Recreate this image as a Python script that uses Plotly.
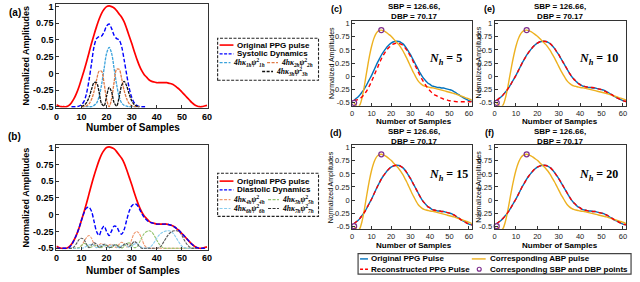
import plotly.graph_objects as go

W, H = 640, 282
SANS = "Liberation Sans, Arial, sans-serif"
SERIF = "Liberation Serif, DejaVu Serif, serif"

# ---------------- data: panels (a) and (b) ----------------
samples_ppg = list(range(0, 61))
ppg_original = [-0.47, -0.49, -0.50, -0.50, -0.50, -0.48, -0.44, -0.38, -0.30, -0.20,
                -0.08, 0.04, 0.17, 0.31, 0.45, 0.58, 0.70, 0.81, 0.90, 0.96,
                1.00, 1.01, 1.00, 0.98, 0.94, 0.89, 0.84, 0.77, 0.67, 0.56,
                0.45, 0.33, 0.22, 0.12, 0.04, -0.02, -0.06, -0.10, -0.12, -0.13,
                -0.14, -0.14, -0.14, -0.14, -0.14, -0.15, -0.16, -0.18, -0.21, -0.24,
                -0.28, -0.32, -0.36, -0.40, -0.44, -0.47, -0.49, -0.50, -0.50, -0.49, -0.48]

samples_sys = list(range(6, 37))
systolic = [-0.50, -0.50, -0.50, -0.49, -0.47, -0.42, -0.30, -0.10, 0.15, 0.40,
            0.52, 0.55, 0.56, 0.62, 0.71, 0.74, 0.67, 0.57, 0.52, 0.50,
            0.40, 0.20, -0.02, -0.22, -0.36, -0.44, -0.48, -0.50, -0.50, -0.50, -0.50]

samples_comp_a = list(range(10, 34))
comp_1h = [-0.50, -0.50, -0.50, -0.50, -0.50, -0.48, -0.445, -0.35, -0.17, 0.07,
           0.30, 0.39, 0.30, 0.07, -0.17, -0.35, -0.445, -0.48, -0.49, -0.50,
           -0.50, -0.50, -0.50, -0.50]
comp_2h = [-0.50, -0.497, -0.487, -0.458, -0.39, -0.27, -0.10, 0.03, 0.03, -0.15,
           -0.39, -0.50, -0.38, -0.13, 0.06, 0.06, -0.08, -0.26, -0.38, -0.455,
           -0.486, -0.497, -0.50, -0.50]
comp_3h = [-0.494, -0.479, -0.44, -0.36, -0.24, -0.14, -0.14, -0.28, -0.455, -0.487,
           -0.34, -0.21, -0.28, -0.44, -0.49, -0.355, -0.18, -0.12, -0.19, -0.31,
           -0.41, -0.467, -0.49, -0.497]

diastolic = [-0.50, -0.50, -0.50, -0.50, -0.50, -0.49, -0.45, -0.38, -0.30, -0.20,
             -0.08, 0.03, 0.10, 0.11, 0.05, -0.10, -0.25, -0.31, -0.22, -0.17,
             -0.25, -0.31, -0.24, -0.17, -0.18, -0.25, -0.29, -0.22, -0.08, 0.05,
             0.13, 0.16, 0.15, 0.09, 0.02, -0.04, -0.08, -0.11, -0.12, -0.13,
             -0.14, -0.14, -0.14, -0.14, -0.14, -0.15, -0.16, -0.18, -0.21, -0.24,
             -0.28, -0.32, -0.36, -0.40, -0.44, -0.47, -0.49, -0.50, -0.50, -0.50, -0.50]

samples_comp_b = list(range(5, 57))
comp_4h = [-0.50, -0.50, -0.50, -0.50, -0.49, -0.46, -0.40, -0.34, -0.31, -0.35,
           -0.44, -0.49, -0.45, -0.43, -0.46, -0.49, -0.45, -0.44, -0.47, -0.49,
           -0.44, -0.41, -0.43, -0.48, -0.47, -0.37, -0.28, -0.25, -0.28, -0.36,
           -0.45, -0.49, -0.50, -0.50, -0.50, -0.50, -0.50, -0.50, -0.50, -0.50,
           -0.50, -0.50, -0.50, -0.50, -0.50, -0.50, -0.50, -0.50, -0.50, -0.50,
           -0.50, -0.50]
comp_5h = [-0.50, -0.50, -0.50, -0.50, -0.49, -0.46, -0.43, -0.44, -0.49, -0.48,
           -0.46, -0.46, -0.49, -0.49, -0.46, -0.46, -0.49, -0.49, -0.46, -0.45,
           -0.47, -0.50, -0.47, -0.43, -0.42, -0.45, -0.49, -0.48, -0.42, -0.34,
           -0.28, -0.25, -0.24, -0.26, -0.31, -0.38, -0.44, -0.48, -0.50, -0.50,
           -0.50, -0.50, -0.50, -0.50, -0.50, -0.50, -0.50, -0.50, -0.50, -0.50,
           -0.50, -0.50]
comp_6h = [-0.50, -0.50, -0.50, -0.50, -0.50, -0.50, -0.49, -0.47, -0.45, -0.44,
           -0.46, -0.49, -0.47, -0.45, -0.46, -0.49, -0.48, -0.45, -0.45, -0.48,
           -0.49, -0.46, -0.44, -0.46, -0.49, -0.47, -0.44, -0.43, -0.46, -0.49,
           -0.50, -0.50, -0.49, -0.46, -0.41, -0.35, -0.30, -0.27, -0.25, -0.24,
           -0.24, -0.26, -0.30, -0.36, -0.42, -0.47, -0.49, -0.50, -0.50, -0.50,
           -0.50, -0.50]
comp_7h = [-0.50, -0.50, -0.48, -0.43, -0.37, -0.35, -0.37, -0.44, -0.49, -0.45,
           -0.42, -0.44, -0.49, -0.47, -0.44, -0.45, -0.49, -0.48, -0.45, -0.45,
           -0.49, -0.48, -0.44, -0.43, -0.47, -0.44, -0.40, -0.42, -0.47, -0.50,
           -0.50, -0.50, -0.50, -0.50, -0.50, -0.50, -0.49, -0.45, -0.39, -0.33,
           -0.28, -0.25, -0.24, -0.24, -0.26, -0.31, -0.38, -0.44, -0.48, -0.50,
           -0.50, -0.50]

# ---------------- data: panels (c)-(f) ----------------
samples_bp = list(range(1, 63))
ppg_pulse = [-0.45, -0.42, -0.39, -0.35, -0.30, -0.25, -0.19, -0.12, -0.05, 0.02,
             0.10, 0.18, 0.26, 0.33, 0.40, 0.46, 0.51, 0.56, 0.60, 0.63,
             0.65, 0.66, 0.665, 0.66, 0.645, 0.62, 0.58, 0.53, 0.47, 0.41,
             0.34, 0.27, 0.20, 0.13, 0.06, 0.00, -0.05, -0.09, -0.13, -0.15,
             -0.18, -0.19, -0.20, -0.21, -0.21, -0.22, -0.22, -0.23, -0.24, -0.25,
             -0.26, -0.28, -0.30, -0.33, -0.35, -0.38, -0.40, -0.42, -0.44, -0.46,
             -0.47, -0.48]
abp_pulse = [-0.50, -0.55, -0.58, -0.54, -0.42, -0.24, -0.02, 0.20, 0.40, 0.57,
             0.70, 0.79, 0.845, 0.87, 0.875, 0.865, 0.845, 0.82, 0.79, 0.76,
             0.72, 0.68, 0.64, 0.60, 0.55, 0.49, 0.42, 0.35, 0.27, 0.19,
             0.11, 0.04, -0.03, -0.09, -0.13, -0.16, -0.18, -0.19, -0.20, -0.21,
             -0.215, -0.22, -0.23, -0.24, -0.25, -0.26, -0.27, -0.28, -0.29, -0.30,
             -0.31, -0.32, -0.33, -0.345, -0.36, -0.37, -0.385, -0.40, -0.41, -0.425,
             -0.44, -0.46]
recon_nh5 = [-0.45, -0.45, -0.44, -0.42, -0.39, -0.35, -0.30, -0.24, -0.17, -0.09,
             -0.01, 0.08, 0.16, 0.25, 0.33, 0.40, 0.46, 0.51, 0.55, 0.58,
             0.61, 0.62, 0.63, 0.625, 0.61, 0.59, 0.55, 0.50, 0.44, 0.38,
             0.31, 0.23, 0.16, 0.08, 0.01, -0.06, -0.12, -0.18, -0.23, -0.27,
             -0.31, -0.34, -0.36, -0.38, -0.40, -0.41, -0.43, -0.44, -0.45, -0.46,
             -0.465, -0.47, -0.475, -0.48, -0.48, -0.48, -0.48, -0.48, -0.48, -0.48,
             -0.48, -0.48]
recon_nh10 = [-0.45, -0.42, -0.39, -0.35, -0.30, -0.25, -0.19, -0.12, -0.05, 0.02,
              0.10, 0.18, 0.26, 0.33, 0.40, 0.46, 0.51, 0.56, 0.60, 0.63,
              0.65, 0.66, 0.665, 0.66, 0.645, 0.62, 0.58, 0.53, 0.47, 0.41,
              0.34, 0.27, 0.20, 0.13, 0.06, 0.00, -0.05, -0.09, -0.13, -0.16,
              -0.18, -0.19, -0.20, -0.20, -0.21, -0.21, -0.22, -0.23, -0.24, -0.25,
              -0.27, -0.29, -0.31, -0.33, -0.35, -0.38, -0.40, -0.42, -0.44, -0.46,
              -0.47, -0.48]
recon_nh15 = list(ppg_pulse)
recon_nh20 = list(ppg_pulse)
bp_points_x = [15, 1]
bp_points_y = [0.875, -0.50]

y_ticks = [-0.5, -0.25, 0, 0.25, 0.5, 0.75, 1]
y_ticklabels = ["-0.5", "-0.25", "0", "0.25", "0.5", "0.75", "1"]
x_ticks = [0, 10, 20, 30, 40, 50, 60]
title_bp = "SBP = 126.66,<br>DBP = 70.17"
nh_values = [5, 15, 10, 20]

# ---------------- figure ----------------
fig = go.Figure()
shapes, annotations = [], []


def xd(a, b):
    return [a / W, b / W]


def yd(top, bottom):
    return [1 - bottom / H, 1 - top / H]


def line_trace(x, y, ax, color, width, dash="solid"):
    fig.add_trace(go.Scatter(x=x, y=y, mode="lines", xaxis="x" + ax, yaxis="y" + ax,
                             line=dict(color=color, width=width, dash=dash, shape="spline", smoothing=0.9),
                             showlegend=False, hoverinfo="skip"))


def text(xp, yp, s, size, bold=True, xanchor="center", family=SANS, angle=0):
    annotations.append(dict(x=xp / W, y=1 - yp / H, xref="paper", yref="paper", text=s,
                            showarrow=False, xanchor=xanchor, yanchor="middle", textangle=angle,
                            font=dict(family=family, size=size, color="black",
                                      weight="bold" if bold else "normal")))


def seg(x0, x1, yp, color, width, dash="solid"):
    shapes.append(dict(type="line", xref="paper", yref="paper", x0=x0 / W, x1=x1 / W,
                       y0=1 - yp / H, y1=1 - yp / H, line=dict(color=color, width=width, dash=dash)))


def rect(x0, y0, x1, y1, color, width, dash="solid"):
    shapes.append(dict(type="rect", xref="paper", yref="paper", x0=x0 / W, x1=x1 / W,
                       y0=1 - y1 / H, y1=1 - y0 / H, line=dict(color=color, width=width, dash=dash)))


# panel (a)
line_trace(samples_ppg, ppg_original, "", "#FF0000", 1.7)
line_trace(samples_sys, systolic, "", "#0000FF", 1.4, "4px,2px")
line_trace(samples_comp_a, comp_1h, "", "#3BA3DC", 1.3, "3px,1px")
line_trace(samples_comp_a, comp_2h, "", "#E07A45", 1.3, "3px,1px")
line_trace(samples_comp_a, comp_3h, "", "#111111", 1.3, "3px,1px")

# panel (b)
line_trace(samples_comp_b, comp_4h, "2", "#F0986F", 1.1, "3px,1px")
line_trace(samples_comp_b, comp_5h, "2", "#93C46E", 1.1, "3px,1px")
line_trace(samples_comp_b, comp_6h, "2", "#8ACDEE", 1.1, "3px,1px")
line_trace(samples_comp_b, comp_7h, "2", "#5A5A5A", 1.1, "3px,1px")
line_trace(samples_ppg, ppg_original, "2", "#FF0000", 1.7)
line_trace(samples_ppg, diastolic, "2", "#0000FF", 1.4, "4px,2px")

# panels (c)-(f)
recons = {"3": recon_nh5, "4": recon_nh15, "5": recon_nh10, "6": recon_nh20}
for ax in ["3", "4", "5", "6"]:
    line_trace(samples_bp, ppg_pulse, ax, "#0072BD", 1.4)
    line_trace(samples_bp, abp_pulse, ax, "#EDB120", 1.4)
    line_trace(samples_bp, recons[ax], ax, "#FF0000", 1.4, "4px,3px")
    fig.add_trace(go.Scatter(x=bp_points_x, y=bp_points_y, mode="markers", xaxis="x" + ax, yaxis="y" + ax,
                             marker=dict(symbol="circle-open", size=5, color="#7E2F8E", line=dict(width=1.3)),
                             showlegend=False, hoverinfo="skip", cliponaxis=False))

axis_base = dict(showline=True, linecolor="#333333", linewidth=1, mirror=True, ticks="inside",
                 ticklen=3, tickcolor="#333333", showgrid=False, zeroline=False, fixedrange=True)
font_ab = dict(family=SANS, size=9, color="black", weight="bold")
font_cf = dict(family=SANS, size=7.5, color="#222222")

layout_axes = {}
panels = {
    "": (54, 207, 2, 108, [0, 60.3], [-0.515, 1.04], font_ab),
    "2": (54, 207, 146, 253, [0, 60.3], [-0.52, 1.04], font_ab),
    "3": (353, 474, 19, 106, [0, 61.5], [-0.555, 1.055], font_cf),
    "4": (353, 474, 146, 232, [0, 61.5], [-0.555, 1.055], font_cf),
    "5": (497, 630, 19, 106, [0, 61.5], [-0.555, 1.055], font_cf),
    "6": (497, 630, 146, 232, [0, 61.5], [-0.555, 1.055], font_cf),
}
for ax, (x0, x1, t, b, xr, yr, tf) in panels.items():
    layout_axes["xaxis" + ax] = dict(axis_base, domain=xd(x0, x1), range=xr, anchor="y" + ax,
                                     tickvals=x_ticks, tickfont=tf)
    layout_axes["yaxis" + ax] = dict(axis_base, domain=yd(t, b), range=yr, anchor="x" + ax,
                                     tickvals=y_ticks, ticktext=y_ticklabels, tickfont=tf)

# axis titles and panel labels
text(131, 128, "Number of Samples", 10)
text(131, 274, "Number of Samples", 10)
text(23, 55, "Normalized Amplitudes", 9, angle=-90)
text(23, 200, "Normalized Amplitudes", 9, angle=-90)
text(12, 11, "(a)", 10)
text(12, 137, "(b)", 10)
for cx, ty, xy, lx in [(416, 9.5, 122, 332), (416, 137.5, 249, 332),
                       (563, 9.5, 122, 481), (563, 137.5, 249, 481)]:
    text(cx, ty, title_bp, 8)
    text(cx, xy, "Number of Samples", 8)
    text(lx, (62 if ty < 100 else 189), "Normalized Amplitudes", 7, bold=False, angle=-90)
text(337, 7, "(c)", 9)
text(337, 134, "(d)", 9)
text(492, 7, "(e)", 9)
text(492, 134, "(f)", 9)

# N_h labels
for ax, nh, yv in [("3", nh_values[0], 0.32), ("4", nh_values[1], 0.48), ("5", nh_values[2], 0.32), ("6", nh_values[3], 0.48)]:
    annotations.append(dict(x=38.5, y=yv, xref="x" + ax, yref="y" + ax, xanchor="left", yanchor="middle",
                            showarrow=False, text="<i>N</i><sub><i>h</i></sub> = %d" % nh,
                            font=dict(family=SERIF, size=12, color="black", weight="bold")))


def math_lbl(k):
    return "<i>4h\u03ba</i><sub><i>%dh</i></sub><i>\u03c8</i><sup>2</sup><sub><i>%dh</i></sub>" % (k, k)


# legend (a)
rect(217, 37, 319, 80, "#222222", 1.1, "3px,1.5px")
seg(219, 233, 44, "#FF0000", 1.6)
text(235, 44, "Original PPG pulse", 8, xanchor="left")
seg(219, 233, 53, "#0000FF", 1.4, "3px,1.5px")
text(235, 53, "Systolic Dynamics", 8, xanchor="left")
seg(219, 230, 62, "#3BA3DC", 1.3, "3px,1.5px")
text(231, 62, math_lbl(1), 7.5, xanchor="left", family=SERIF)
seg(267, 278, 62, "#E07A45", 1.3, "3px,1.5px")
text(279, 62, math_lbl(2), 7.5, xanchor="left", family=SERIF)
seg(262, 273, 71, "#111111", 1.3, "3px,1.5px")
text(274, 71, math_lbl(3), 7.5, xanchor="left", family=SERIF)

# legend (b)
rect(217, 175, 319, 219, "#222222", 1.1, "3px,1.5px")
seg(219, 233, 183, "#FF0000", 1.6)
text(235, 183, "Original PPG pulse", 8, xanchor="left")
seg(219, 233, 192, "#0000FF", 1.4, "3px,1.5px")
text(235, 192, "Diastolic Dynamics", 8, xanchor="left")
seg(219, 230, 202, "#F0986F", 1.2, "3px,1.5px")
text(231, 202, math_lbl(4), 7.5, xanchor="left", family=SERIF)
seg(268, 279, 202, "#93C46E", 1.2, "3px,1.5px")
text(280, 202, math_lbl(5), 7.5, xanchor="left", family=SERIF)
seg(219, 230, 211, "#8ACDEE", 1.2, "3px,1.5px")
text(231, 211, math_lbl(6), 7.5, xanchor="left", family=SERIF)
seg(268, 279, 211, "#333333", 1.2, "3px,1.5px")
text(280, 211, math_lbl(7), 7.5, xanchor="left", family=SERIF)

# bottom legend (c)-(f)
rect(359, 257, 635, 278, "#444444", 1.2)
seg(361, 369, 262.5, "#0072BD", 1.4)
text(370, 262.5, "Original PPG Pulse", 8, xanchor="left")
seg(361, 369, 273, "#FF0000", 1.4, "3px,2px")
text(370, 273, "Reconstructed PPG Pulse", 8, xanchor="left")
seg(474, 488, 262.5, "#EDB120", 1.4)
text(490, 262.5, "Corresponding ABP pulse", 8, xanchor="left")
shapes.append(dict(type="circle", xref="paper", yref="paper", x0=479.5 / W, x1=483.5 / W,
                   y0=1 - 275 / H, y1=1 - 271 / H, line=dict(color="#7E2F8E", width=1.2)))
text(490, 273, "Corresponding SBP and DBP points", 8, xanchor="left")

fig.update_layout(width=W, height=H, margin=dict(l=0, r=0, t=0, b=0),
                  paper_bgcolor="white", plot_bgcolor="white", showlegend=False,
                  shapes=shapes, annotations=annotations, **layout_axes)
fig.write_html("out.html", config={"displayModeBar": False, "staticPlot": True},
               post_script="document.body.style.margin='0px';document.body.style.overflow='hidden';")
